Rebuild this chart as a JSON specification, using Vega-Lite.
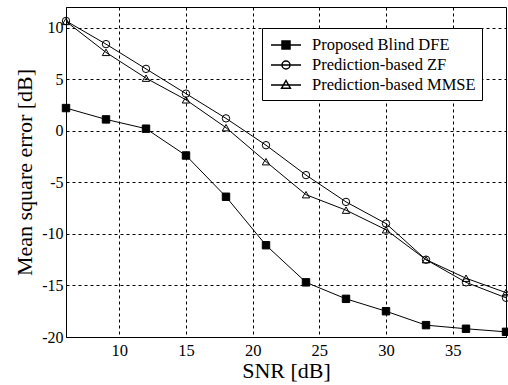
{
  "$schema": "https://vega.github.io/schema/vega-lite/v6.json",
  "width": 440,
  "height": 330,
  "autosize": {"type": "none"},
  "padding": {"left": 66, "top": 7, "right": 2, "bottom": 48},
  "background": "white",
  "config": {
    "font": "Times New Roman",
    "view": {"stroke": "black", "strokeWidth": 1},
    "legend": {"labelFont": "Times New Roman", "titleFont": "Times New Roman"},
    "axis": {
      "domainColor": "black",
      "gridColor": "black",
      "gridOpacity": 1,
      "gridDash": [3, 3],
      "gridWidth": 1,
      "ticks": false,
      "labelFont": "Times New Roman",
      "labelFontSize": 16.5,
      "labelColor": "black",
      "titleFont": "Times New Roman",
      "titleFontSize": 22,
      "titleFontWeight": "normal",
      "titleColor": "black"
    }
  },
  "data": {
    "values": [
      {"snr": 6, "mse": 2.2, "series": "Proposed Blind DFE"},
      {"snr": 9, "mse": 1.1, "series": "Proposed Blind DFE"},
      {"snr": 12, "mse": 0.2, "series": "Proposed Blind DFE"},
      {"snr": 15, "mse": -2.4, "series": "Proposed Blind DFE"},
      {"snr": 18, "mse": -6.4, "series": "Proposed Blind DFE"},
      {"snr": 21, "mse": -11.1, "series": "Proposed Blind DFE"},
      {"snr": 24, "mse": -14.7, "series": "Proposed Blind DFE"},
      {"snr": 27, "mse": -16.3, "series": "Proposed Blind DFE"},
      {"snr": 30, "mse": -17.5, "series": "Proposed Blind DFE"},
      {"snr": 33, "mse": -18.85, "series": "Proposed Blind DFE"},
      {"snr": 36, "mse": -19.2, "series": "Proposed Blind DFE"},
      {"snr": 39, "mse": -19.5, "series": "Proposed Blind DFE"},
      {"snr": 6, "mse": 10.65, "series": "Prediction-based ZF"},
      {"snr": 9, "mse": 8.4, "series": "Prediction-based ZF"},
      {"snr": 12, "mse": 6.0, "series": "Prediction-based ZF"},
      {"snr": 15, "mse": 3.6, "series": "Prediction-based ZF"},
      {"snr": 18, "mse": 1.2, "series": "Prediction-based ZF"},
      {"snr": 21, "mse": -1.4, "series": "Prediction-based ZF"},
      {"snr": 24, "mse": -4.3, "series": "Prediction-based ZF"},
      {"snr": 27, "mse": -6.9, "series": "Prediction-based ZF"},
      {"snr": 30, "mse": -9.0, "series": "Prediction-based ZF"},
      {"snr": 33, "mse": -12.5, "series": "Prediction-based ZF"},
      {"snr": 36, "mse": -14.7, "series": "Prediction-based ZF"},
      {"snr": 39, "mse": -16.2, "series": "Prediction-based ZF"},
      {"snr": 6, "mse": 10.6, "series": "Prediction-based MMSE"},
      {"snr": 9, "mse": 7.6, "series": "Prediction-based MMSE"},
      {"snr": 12, "mse": 5.1, "series": "Prediction-based MMSE"},
      {"snr": 15, "mse": 3.0, "series": "Prediction-based MMSE"},
      {"snr": 18, "mse": 0.3, "series": "Prediction-based MMSE"},
      {"snr": 21, "mse": -3.0, "series": "Prediction-based MMSE"},
      {"snr": 24, "mse": -6.2, "series": "Prediction-based MMSE"},
      {"snr": 27, "mse": -7.7, "series": "Prediction-based MMSE"},
      {"snr": 30, "mse": -9.6, "series": "Prediction-based MMSE"},
      {"snr": 33, "mse": -12.5, "series": "Prediction-based MMSE"},
      {"snr": 36, "mse": -14.3, "series": "Prediction-based MMSE"},
      {"snr": 39, "mse": -15.7, "series": "Prediction-based MMSE"}
    ]
  },
  "encoding": {
    "x": {
      "field": "snr", "type": "quantitative",
      "scale": {"domain": [6, 39], "nice": false, "zero": false},
      "axis": {"values": [10, 15, 20, 25, 30, 35], "title": "SNR [dB]", "labelPadding": 5, "titlePadding": 2}
    },
    "y": {
      "field": "mse", "type": "quantitative",
      "scale": {"domain": [-20, 12], "nice": false, "zero": false},
      "axis": {"values": [-20, -15, -10, -5, 0, 5, 10], "labelExpr": "'' + datum.value", "labelFontSize": 16, "title": "Mean square error [dB]", "labelPadding": 3, "titlePadding": 5}
    }
  },
  "layer": [
    {
      "mark": {"type": "line", "color": "black", "strokeWidth": 1},
      "encoding": {"detail": {"field": "series"}}
    },
    {
      "mark": {"type": "point", "stroke": "black", "strokeWidth": 1, "size": 55, "opacity": 1},
      "encoding": {
        "shape": {
          "field": "series", "type": "nominal",
          "scale": {"domain": ["Proposed Blind DFE", "Prediction-based ZF", "Prediction-based MMSE"], "range": ["square", "circle", "triangle-up"]},
          "legend": null
        },
        "fill": {
          "field": "series", "type": "nominal",
          "scale": {"domain": ["Proposed Blind DFE", "Prediction-based ZF", "Prediction-based MMSE"], "range": ["black", "transparent", "transparent"]},
          "legend": null
        }
      }
    },
    {
      "mark": {"type": "point", "opacity": 0, "stroke": "black", "strokeWidth": 1},
      "encoding": {
        "shape": {
          "field": "series", "type": "nominal",
          "scale": {"domain": ["Proposed Blind DFE", "Prediction-based ZF", "Prediction-based MMSE"],
            "range": [
              "M-0.8,0H2.2M0.3,-0.4H1.1V0.4H0.3ZM0.3,-0.3H1.1M0.3,-0.2H1.1M0.3,-0.1H1.1M0.3,0H1.1M0.3,0.1H1.1M0.3,0.2H1.1M0.3,0.3H1.1",
              "M-0.8,0H2.2M0.3,0A0.4,0.4 0 1,0 1.1,0A0.4,0.4 0 1,0 0.3,0Z",
              "M-0.8,0H2.2M0.7,-0.45L1.14,0.32H0.26Z"
            ]},
          "legend": {
            "title": null,
            "orient": "none",
            "legendX": 196,
            "legendY": 21,
            "strokeColor": "black",
            "fillColor": "white",
            "padding": 6,
            "symbolSize": 400,
            "labelFont": "Times New Roman",
            "labelFontSize": 16.5,
            "labelColor": "black",
            "labelOffset": 22,
            "rowPadding": 0,
            "labelLimit": 300,
            "encode": {
              "symbols": {"update": {"stroke": {"value": "black"}, "strokeWidth": {"value": 1}, "strokeOpacity": {"value": 1}, "opacity": {"value": 1}}}
            }
          }
        }
      }
    }
  ],
  "resolve": {"scale": {"shape": "independent", "fill": "independent"}}
}
